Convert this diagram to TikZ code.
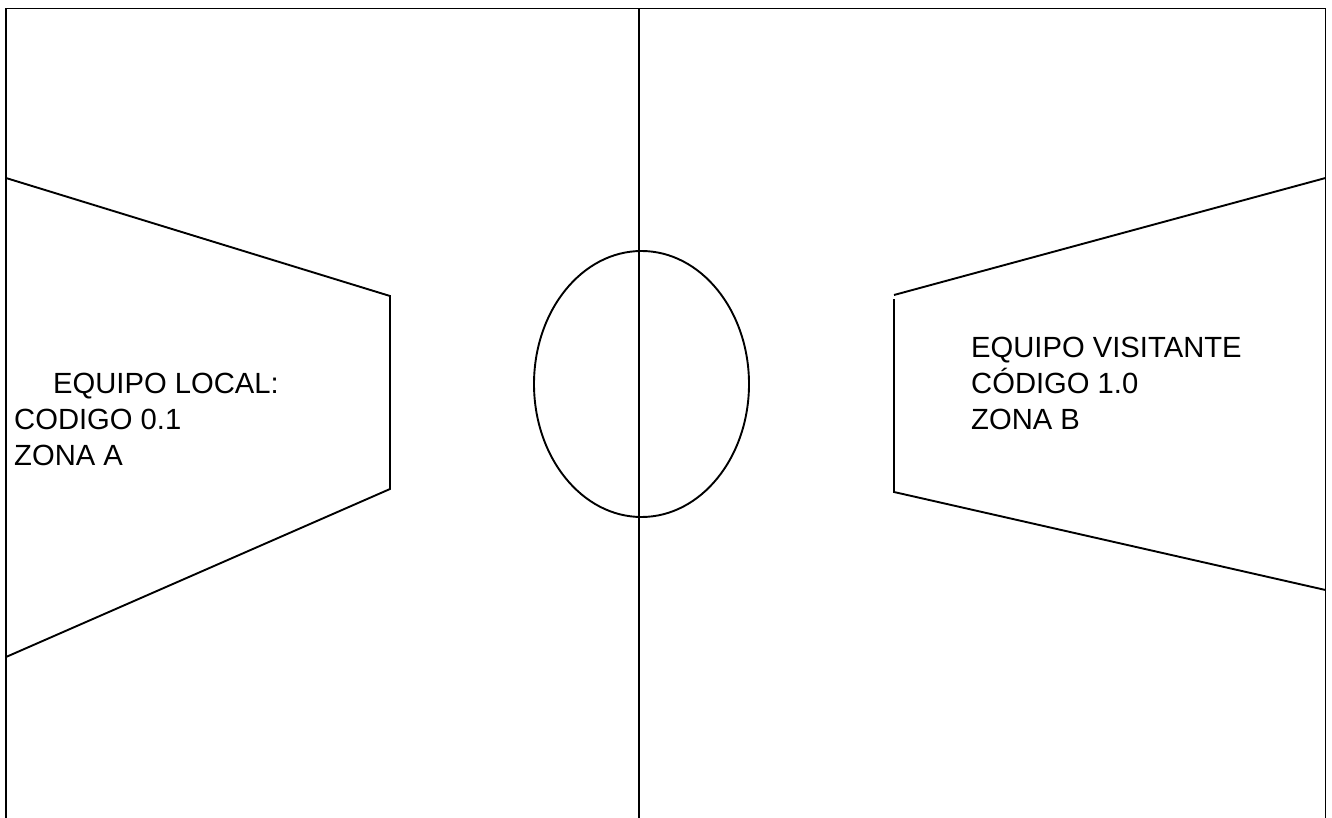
\documentclass[tikz,border=0pt]{standalone}
\usepackage{fontspec}
\setmainfont{Liberation Sans}
\begin{document}
\begin{tikzpicture}[x=1pt,y=-1pt,
  fieldline/.style={draw=black,line width=1.9pt,line join=miter},
  lbl/.style={anchor=base west,inner sep=0pt,font=\fontsize{29.2}{36}\selectfont}]
\useasboundingbox (0,0) rectangle (1332,818);
% outer field (no bottom edge)
\coordinate (bl) at (6,818);
\coordinate (tl) at (6,8.5);
\coordinate (tr) at (1325.5,8.5);
\coordinate (br) at (1325.5,818);
\draw[fieldline] (bl) -- (tl) -- (tr) -- (br);
% halfway line
\coordinate (mt) at (639,8.5);
\coordinate (mb) at (639,818);
\draw[fieldline] (mt) -- (mb);
% centre circle
\draw[fieldline] (641.5,384) ellipse [x radius=107.5, y radius=133];
% left area
\coordinate (la1) at (6,178);
\coordinate (la2) at (390,296);
\coordinate (la3) at (390,489);
\coordinate (la4) at (6,657);
\draw[fieldline] (la1) -- (la2) -- (la3) -- (la4);
% right area
\coordinate (ra1) at (1325.5,178);
\coordinate (ra2) at (894,295);
\coordinate (ra3) at (894,299);
\coordinate (ra4) at (894,492);
\coordinate (ra5) at (1325.5,590);
\draw[fieldline] (ra1) -- (ra2);
\draw[fieldline] (ra3) -- (ra4) -- (ra5);
% texts
\node[lbl] (l1) at (53,393) {EQUIPO LOCAL:};
\node[lbl] (l2) at (14,429) {CODIGO 0.1};
\node[lbl] (l3) at (14,465) {ZONA A};
\node[lbl] (r1) at (971,357) {EQUIPO VISITANTE};
\node[lbl] (r2) at (971,393) {CÓDIGO 1.0};
\node[lbl] (r3) at (971,429) {ZONA B};
\end{tikzpicture}
\end{document}
